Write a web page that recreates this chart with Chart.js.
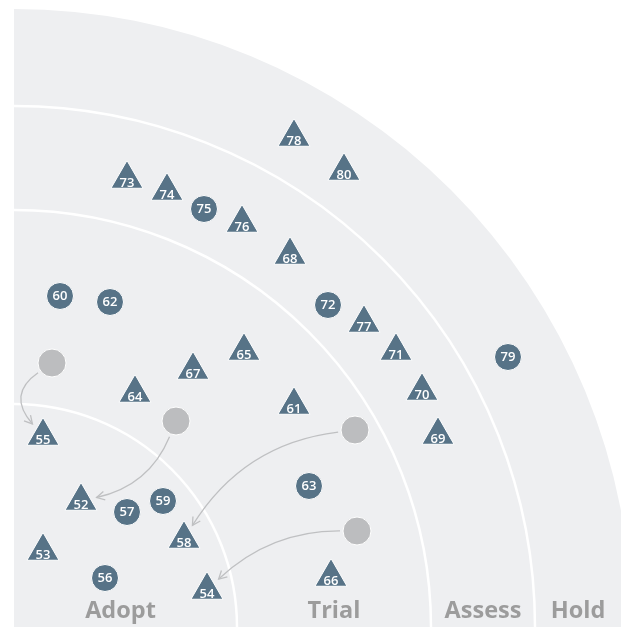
<!DOCTYPE html>
<html>
<head>
<meta charset="utf-8">
<script src="https://cdn.jsdelivr.net/npm/chart.js@4"></script>
<style>
  body { margin: 0; background: #fff; }
  #wrap { width: 621px; height: 627px; position: relative; }
</style>
</head>
<body>
<div id="wrap"><canvas id="radar"></canvas></div>
<script>
// rings (radius from the corner of the radar)
let ringNames = ["Adopt", "Trial", "Assess", "Hold"];
let ringRadii = [223, 417, 521, 618];

// blips, x/y measured from the radar corner
let triangleIds = [52, 53, 54, 55, 58, 61, 64, 65, 66, 67, 68, 69, 70, 71, 73, 74, 76, 77, 78, 80];
let triangleX = [67, 29, 193, 29, 170, 280, 121, 230, 317, 179, 276, 424, 408, 382, 113, 153, 228, 350, 280, 330];
let triangleY = [126, 76, 37, 191, 88, 222, 234, 276, 50, 257, 372, 192, 236, 276, 448, 436, 404, 304, 490, 456];

let circleIds = [56, 57, 59, 60, 62, 63, 72, 75, 79];
let circleX = [91, 113, 149, 46, 96, 295, 314, 190, 494];
let circleY = [49, 115, 126, 331, 325, 141, 322, 418, 270];

// previous positions of moved blips
let movedIds = [55, 52, 58, 54];
let movedX = [38, 162, 341, 343];
let movedY = [264, 206, 197, 96];
let arrowBend = [0.28, -0.13, 0.12, 0.1];

const blipColor = "#577387";
const fontFamily = "'Open Sans', 'Noto Sans', sans-serif";

function toPoints(xs, ys) {
  return xs.map((x, i) => ({ x: x, y: ys[i] }));
}

let radarPlugin = {
  id: "radarRings",
  beforeDatasetsDraw(chart) {
    let ctx = chart.ctx;
    let xs = chart.scales.x, ys = chart.scales.y;
    let cx = xs.getPixelForValue(0), cy = ys.getPixelForValue(0);
    let unit = xs.getPixelForValue(1) - cx;
    ctx.save();
    ctx.fillStyle = "#eeeff1";
    ctx.beginPath();
    ctx.moveTo(cx, cy);
    ctx.arc(cx, cy, ringRadii[ringRadii.length - 1] * unit, -Math.PI / 2, 0);
    ctx.closePath();
    ctx.fill();
    ctx.strokeStyle = "#ffffff";
    ctx.lineWidth = 2.5;
    for (let i = 0; i < ringRadii.length - 1; i++) {
      ctx.beginPath();
      ctx.arc(cx, cy, ringRadii[i] * unit, -Math.PI / 2, 0);
      ctx.stroke();
    }

    // arrows from old position to new one
    ctx.strokeStyle = "#bfc0c2";
    ctx.lineWidth = 1.3;
    movedIds.forEach((id, i) => {
      let ti = triangleIds.indexOf(id);
      let sx = xs.getPixelForValue(movedX[i]), sy = ys.getPixelForValue(movedY[i]);
      let tx = xs.getPixelForValue(triangleX[ti]), ty = ys.getPixelForValue(triangleY[ti]);
      let dx = tx - sx, dy = ty - sy;
      let len = Math.hypot(dx, dy);
      let off = 2 * arrowBend[i] * len;
      let qx = (sx + tx) / 2 + (-dy / len) * off;
      let qy = (sy + ty) / 2 + (dx / len) * off;
      let a = Math.atan2(qy - sy, qx - sx);
      let x0 = sx + Math.cos(a) * 17, y0 = sy + Math.sin(a) * 17;
      let b = Math.atan2(qy - ty, qx - tx);
      let x1 = tx + Math.cos(b) * 16, y1 = ty + Math.sin(b) * 16;
      ctx.beginPath();
      ctx.moveTo(x0, y0);
      ctx.quadraticCurveTo(qx, qy, x1, y1);
      ctx.stroke();
      let h = Math.atan2(y1 - qy, x1 - qx);
      ctx.beginPath();
      ctx.moveTo(x1 - Math.cos(h - 0.5) * 9, y1 - Math.sin(h - 0.5) * 9);
      ctx.lineTo(x1, y1);
      ctx.lineTo(x1 - Math.cos(h + 0.5) * 9, y1 - Math.sin(h + 0.5) * 9);
      ctx.stroke();
    });
    ctx.restore();
  },
  afterDatasetsDraw(chart) {
    let ctx = chart.ctx;
    let xs = chart.scales.x, ys = chart.scales.y;
    ctx.save();
    ctx.fillStyle = "#ffffff";
    ctx.font = "600 13px " + fontFamily;
    ctx.textAlign = "center";
    ctx.textBaseline = "middle";
    chart.getDatasetMeta(0).data.forEach((el, i) => {
      ctx.fillText(String(triangleIds[i]), el.x, el.y + 4.5);
    });
    chart.getDatasetMeta(1).data.forEach((el, i) => {
      ctx.fillText(String(circleIds[i]), el.x, el.y + 0.5);
    });

    // ring names along the bottom
    ctx.fillStyle = "#9c9c9c";
    ctx.font = "bold 23.5px " + fontFamily;
    ctx.textBaseline = "alphabetic";
    let visible = xs.max;
    let inner = 0;
    ringNames.forEach((name, i) => {
      let outer = Math.min(ringRadii[i], visible);
      let mid = (inner + outer) / 2;
      if (i === 0) mid -= 5;
      ctx.fillText(name, xs.getPixelForValue(mid), ys.getPixelForValue(9));
      inner = ringRadii[i];
    });
    ctx.restore();
  }
};

new Chart(document.getElementById("radar"), {
  type: "scatter",
  data: {
    datasets: [
      {
        label: "triangles",
        data: toPoints(triangleX, triangleY),
        pointStyle: "triangle",
        pointRadius: 18.5,
        backgroundColor: blipColor,
        borderColor: "#ffffff",
        borderWidth: 1,
      },
      {
        label: "circles",
        data: toPoints(circleX, circleY),
        pointStyle: "circle",
        pointRadius: 13.5,
        backgroundColor: blipColor,
        borderColor: "#ffffff",
        borderWidth: 1,
      },
      {
        label: "moved",
        data: toPoints(movedX, movedY),
        pointStyle: "circle",
        pointRadius: 14,
        backgroundColor: "#bcbdbf",
        borderColor: "#ffffff",
        borderWidth: 1,
      },
    ],
  },
  options: {
    responsive: true,
    maintainAspectRatio: false,
    animation: false,
    layout: { autoPadding: false, padding: { left: 14, right: 0, top: 0, bottom: 0 } },
    plugins: { legend: { display: false }, tooltip: { enabled: false } },
    scales: {
      x: { type: "linear", min: 0, max: 607, display: false },
      y: { type: "linear", min: 0, max: 627, display: false },
    },
  },
  plugins: [radarPlugin],
});
</script>
</body>
</html>
